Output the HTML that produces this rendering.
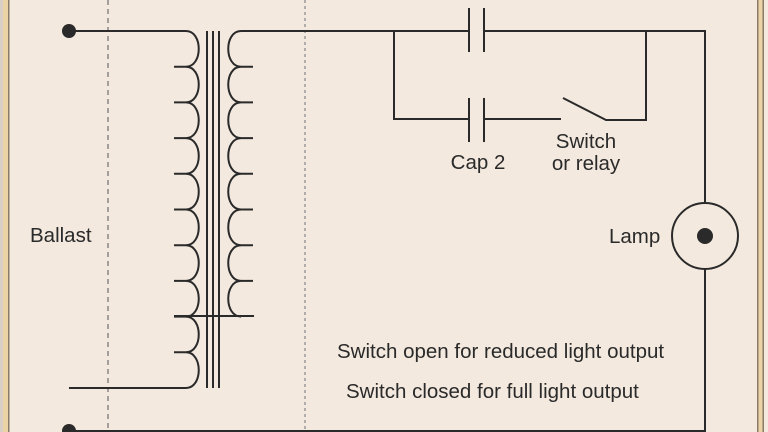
<!DOCTYPE html>
<html><head><meta charset="utf-8"><style>
html,body{margin:0;padding:0;background:#f3e9df;}
svg{display:block}
text{font-family:"Liberation Sans",sans-serif;font-size:20.5px;fill:#2a2a2a}
</style></head><body>
<svg width="768" height="432" viewBox="0 0 768 432" xmlns="http://www.w3.org/2000/svg">
<rect x="0" y="0" width="768" height="432" fill="#f3e9df"/>
<rect x="0" y="0" width="3" height="432" fill="#d8cfc6"/>
<rect x="3" y="0" width="5" height="432" fill="#ecd3a6"/>
<rect x="8" y="0" width="1.5" height="432" fill="#8a7a68"/>
<rect x="757" y="0" width="1.5" height="432" fill="#8a7a68"/>
<rect x="758.5" y="0" width="4" height="432" fill="#ecd3a6"/>
<rect x="762.5" y="0" width="1.5" height="432" fill="#8a7a68"/>
<line x1="108" y1="0" x2="108" y2="432" stroke="#555" stroke-width="1" stroke-dasharray="5,4"/>
<line x1="305" y1="0" x2="305" y2="432" stroke="#999" stroke-width="1.5" stroke-dasharray="3,3"/>
<g fill="none" stroke="#2a2a2a" stroke-width="2">
<line x1="207" y1="31" x2="207" y2="388"/>
<line x1="213" y1="31" x2="213" y2="388"/>
<line x1="219" y1="31" x2="219" y2="388"/>
<line x1="174" y1="316" x2="254" y2="316"/>
<path d="M241,31 H705 V203"/>
<path d="M705,269 V431 H69"/>
<path d="M394,31 V119 H469 M484,119 H561 M563,98 L606,120 H646 V31"/>
<line x1="469" y1="8" x2="469" y2="52"/>
<line x1="484" y1="8" x2="484" y2="52"/>
<line x1="469" y1="98" x2="469" y2="142"/>
<line x1="484" y1="98" x2="484" y2="142"/>
<circle cx="705" cy="236" r="33"/>
</g>
<rect x="470" y="20" width="13" height="22" fill="#f3e9df"/>
<circle cx="705" cy="236" r="8" fill="#2a2a2a"/>
<circle cx="69" cy="31" r="7" fill="#2a2a2a"/>
<circle cx="69" cy="431" r="7" fill="#2a2a2a"/>
<g id="coils" fill="none" stroke="#2a2a2a" stroke-width="2"></g>
<text x="30" y="242">Ballast</text>
<text x="478" y="169" text-anchor="middle">Cap 2</text>
<text x="586" y="148" text-anchor="middle">Switch</text>
<text x="586" y="170" text-anchor="middle">or relay</text>
<text x="609" y="243">Lamp</text>
<text x="337" y="358">Switch open for reduced light output</text>
<text x="346" y="398">Switch closed for full light output</text>
<script>
(function(){
var g=document.getElementById('coils');var ns='http://www.w3.org/2000/svg';
var s=35.7,d='M69,31 H186';
for(var k=0;k<10;k++){var y0=31+s*k,y1=y0+s;d+=' C203,'+y0+' 203,'+y1+' 186,'+y1;}
d+=' H69';
var p=document.createElementNS(ns,'path');p.setAttribute('d',d);g.appendChild(p);
var d2='M241,31';
for(var k=0;k<8;k++){var y0=31+s*k,y1=y0+s;d2+=' C224,'+y0+' 224,'+y1+' 241,'+y1;}
var p2=document.createElementNS(ns,'path');p2.setAttribute('d',d2);g.appendChild(p2);
var st='';
for(var k=1;k<10;k++){var y=31+s*k;st+=' M174,'+y+' H186';}
for(var k=1;k<8;k++){var y=31+s*k;st+=' M241,'+y+' H253';}
var p3=document.createElementNS(ns,'path');p3.setAttribute('d',st);g.appendChild(p3);
})();
</script>
</svg>
</body></html>
